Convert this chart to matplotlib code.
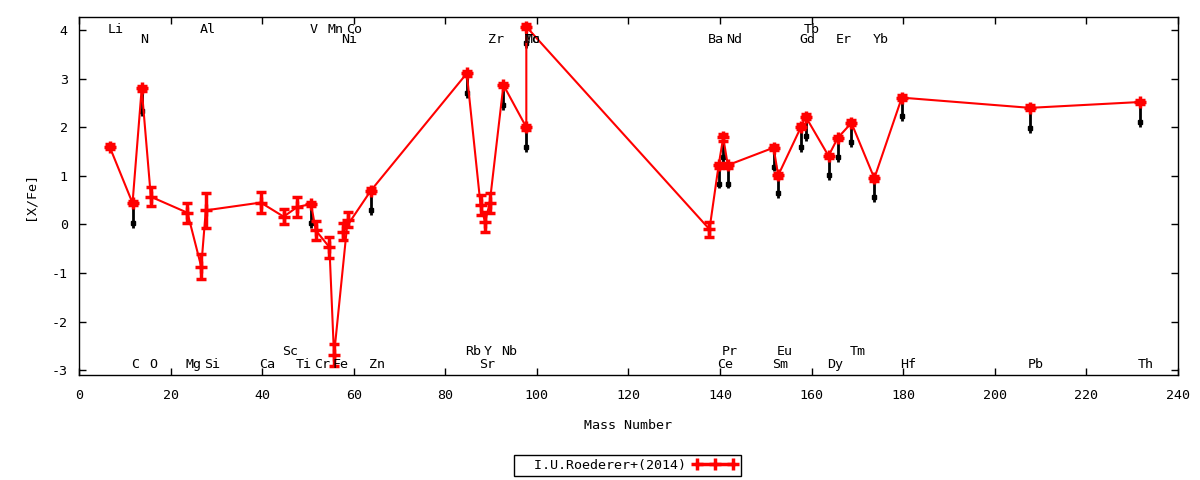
import numpy as np
import matplotlib
matplotlib.use('Agg')
import matplotlib.pyplot as plt
from matplotlib.lines import Line2D

plt.rcParams['font.family'] = ['DejaVu Sans Mono']
plt.rcParams['font.size'] = 9.6
plt.rcParams['axes.unicode_minus'] = False

# elements in order of atomic number
elements = ['Li', 'C', 'N', 'O', 'Mg', 'Al', 'Si', 'Ca', 'Sc', 'Ti', 'V', 'Cr', 'Mn', 'Fe',
            'Co', 'Ni', 'Zn', 'Rb', 'Sr', 'Y', 'Zr', 'Nb', 'Mo', 'Tc', 'Ba', 'Ce', 'Pr', 'Nd',
            'Sm', 'Eu', 'Gd', 'Tb', 'Dy', 'Er', 'Tm', 'Yb', 'Hf', 'Pb', 'Th']
mass = [7, 12, 14, 16, 24, 27, 28, 40, 45, 48, 51, 52, 55, 56,
        59, 58, 64, 85, 88, 89, 90, 93, 98, 98, 138, 140, 141, 142,
        152, 153, 158, 159, 164, 166, 169, 174, 180, 208, 232]
xfe = [1.60, 0.44, 2.80, 0.57, 0.24, -0.87, 0.29, 0.45, 0.16, 0.36, 0.42, -0.12, -0.47, -2.69,
       0.10, -0.15, 0.69, 3.11, 0.40, 0.05, 0.44, 2.87, 2.00, 4.07, -0.10, 1.22, 1.79, 1.22,
       1.58, 1.01, 2.01, 2.22, 1.41, 1.78, 2.09, 0.95, 2.61, 2.40, 2.52]
xfe_err = [0.05, 0.05, 0.06, 0.20, 0.21, 0.26, 0.36, 0.22, 0.16, 0.20, 0.05, 0.20, 0.22, 0.22,
           0.15, 0.17, 0.05, 0.05, 0.20, 0.20, 0.20, 0.05, 0.05, 0.05, 0.16, 0.05, 0.08, 0.05,
           0.05, 0.05, 0.05, 0.05, 0.05, 0.05, 0.05, 0.05, 0.05, 0.05, 0.05]

# black marks under some of the red points
blk_el = ['C', 'N', 'V', 'Zn', 'Rb', 'Nb', 'Mo', 'Tc', 'Ce', 'Pr', 'Nd', 'Sm', 'Eu',
          'Gd', 'Tb', 'Dy', 'Er', 'Tm', 'Yb', 'Hf', 'Pb', 'Th']
blk_val = [0.03, 2.33, 0.02, 0.29, 2.71, 2.46, 1.60, 3.73, 0.84, 1.39, 0.84, 1.19, 0.64,
           1.60, 1.82, 1.01, 1.39, 1.70, 0.57, 2.23, 1.98, 2.10]

# label rows
top1 = ['Li', 'Al', 'V', 'Mn', 'Co', 'Tb']
top2 = ['N', 'Ni', 'Zr', 'Mo', 'Tc', 'Ba', 'Nd', 'Gd', 'Er', 'Yb']
bot1 = ['Sc', 'Rb', 'Y', 'Nb', 'Pr', 'Eu', 'Tm']
bot2 = ['C', 'O', 'Mg', 'Si', 'Ca', 'Ti', 'Cr', 'Fe', 'Zn', 'Sr', 'Ce', 'Sm', 'Dy', 'Hf', 'Pb', 'Th']
row_y = [3.94, 3.74, -2.69, -2.96]

mass_of = dict(zip(elements, mass))
val_of = dict(zip(elements, xfe))

fig = plt.figure(figsize=(12, 4.8), dpi=100)
ax = fig.add_axes([0.0658, 0.21875, 0.9158, 0.7458])

# black lines + squares
bx = [mass_of[e] - 0.3 for e in blk_el]
btop = [val_of[e] for e in blk_el]
bv = np.array(blk_val)
ax.vlines(bx, bv - 0.1, btop, color='black', lw=2, zorder=2)
ax.plot(bx, bv, 's', color='black', ms=3, zorder=2)

ax.errorbar(np.array(mass) - 0.3, xfe, yerr=xfe_err, color='red', lw=1.5, marker='+', ms=8,
            mew=2.5, elinewidth=2.5, capsize=3.5, capthick=2.5, zorder=3)

for row, yy in zip([top1, top2, bot1, bot2], row_y):
    for e in row:
        ax.text(mass_of[e] - 0.7, yy, e, ha='left', va='baseline', fontsize=9.6, zorder=4)

ax.set_xlim(0, 240)
ax.set_ylim(-3.1, 4.27)
ax.set_xticks(np.arange(0, 241, 20))
ax.set_yticks(np.arange(-3, 5, 1))
ax.tick_params(direction='in', top=True, right=True, length=5, width=1)
ax.tick_params(axis='x', pad=10)
ax.tick_params(axis='y', pad=8)
for s in ax.spines.values():
    s.set_linewidth(1)
ax.set_xlabel('Mass Number', labelpad=12)
ax.set_ylabel('[X/Fe]', labelpad=11)

h = Line2D([], [], color='red', lw=2.5, marker='+', ms=8, mew=2.5)
leg = fig.legend([h], ['  I.U.Roederer+(2014)'], loc='center', bbox_to_anchor=(0.5227, 0.031),
                 numpoints=3, markerfirst=False, fancybox=False, framealpha=1,
                 edgecolor='black', handlelength=3.3, borderpad=0.3, handletextpad=0.5,
                 borderaxespad=0)
leg.get_frame().set_linewidth(1)

fig.savefig('out.png', dpi=100)
